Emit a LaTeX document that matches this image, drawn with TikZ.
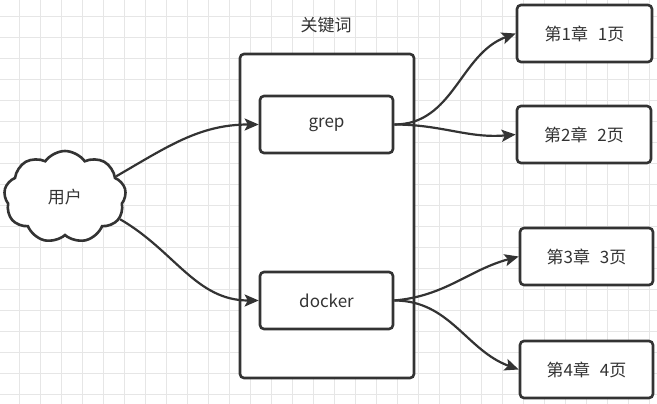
\documentclass[tikz,border=0pt]{standalone}
\usepackage{fontspec}
\setmainfont{Noto Sans CJK SC}
\usetikzlibrary{shapes.symbols,arrows.meta}
\definecolor{ln}{HTML}{333333}
\definecolor{gridc}{HTML}{E6E6E6}
\begin{document}
\begin{tikzpicture}[x=1pt,y=1pt,
  box/.style={draw=ln, line width=2.6pt, rounded corners=4pt, fill=white,
    minimum width=133pt, minimum height=57pt, inner sep=0pt,
    font=\fontsize{17}{19}\selectfont, text=ln},
  conn/.style={draw=ln, line width=2.2pt,
    -{Stealth[length=14pt,width=12pt,inset=3pt]}},
  lbl/.style={font=\fontsize{17}{19}\selectfont, text=ln},
]
\useasboundingbox (0,0) rectangle (657,-404);
\fill[white] (0,0) rectangle (657,-404);
\foreach \i in {0,...,30} {
  \draw[gridc, line width=0.8pt] ({19.3+21*\i},0) -- ({19.3+21*\i},-404);
}
\foreach \j in {0,...,18} {
  \draw[gridc, line width=0.8pt] (0,{-16-21*\j}) -- (657,{-16-21*\j});
}
% container
\node[draw=ln, line width=2.6pt, rounded corners=4pt, fill=white,
  minimum width=174pt, minimum height=324pt, inner sep=0pt] (kw) at (327,-216) {};
\node[lbl] (kwlabel) at (326,-25) {关键词};
% user cloud
\node[cloud, cloud puffs=9, cloud puff arc=110, aspect=1.3, draw=ln, line width=2.6pt, fill=white,
  minimum width=122pt, minimum height=92pt, inner sep=0pt, lbl] (user) at (65,-197) {用户};
% key boxes
\node[box] (grep) at (326.5,-124.5) {grep};
\node[box] (docker) at (326.5,-300.5) {docker};
% chapter boxes
\node[box, minimum width=135pt] (c1) at (584.5,-33.5) {第1章\hspace{10pt}1页};
\node[box, minimum width=134pt] (c2) at (584,-134.5) {第2章\hspace{10pt}2页};
\node[box] (c3) at (586.5,-256.5) {第3章\hspace{10pt}3页};
\node[box] (c4) at (586.5,-369.5) {第4章\hspace{10pt}4页};
% connectors
\draw[conn] (user.22) to[out=30,in=180] (grep.west);
\draw[conn] (user.-22) to[out=-30,in=180] (docker.west);
\draw[conn] (grep.east) to[out=0,in=200] (c1.west);
\draw[conn] (grep.east) to[out=0,in=185] (c2.west);
\draw[conn] (docker.east) to[out=5,in=195] (c3.west);
\draw[conn] (docker.east) to[out=0,in=160] (c4.west);
\end{tikzpicture}
\end{document}
